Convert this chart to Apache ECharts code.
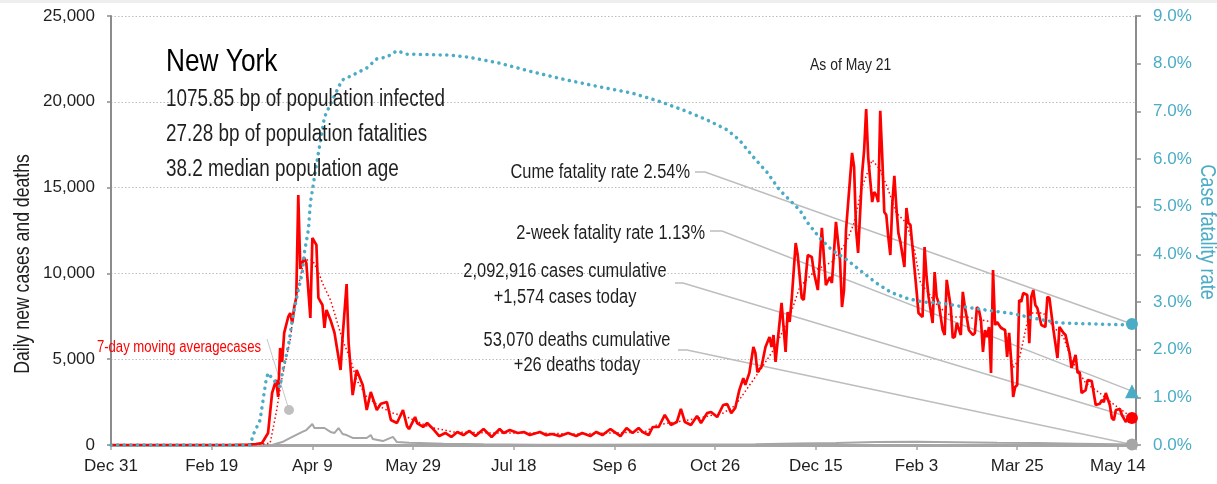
<!DOCTYPE html>
<html>
<head>
<meta charset="utf-8">
<script src="https://cdn.jsdelivr.net/npm/echarts@6/dist/echarts.min.js"></script>
<style>
  html, body { margin: 0; padding: 0; background: #fff; }
  #chart { width: 1217px; height: 484px; }
</style>
</head>
<body>
<div id="chart"></div>
<script>
const FONT = "'Liberation Sans', Arial, sans-serif"
const NARROW = 0.82 // horizontal squeeze to imitate the condensed face of the original
const BLUE = '#4bacc6'
const RED = '#ff0000'
const GREY = '#a6a6a6'
const INK = '#1f1f1f'

// x axis is days since Dec 31, 2019; one label every 50 days
const tickLabels = ['Dec 31', 'Feb 19', 'Apr 9', 'May 29', 'Jul 18', 'Sep 6', 'Oct 26', 'Dec 15', 'Feb 3', 'Mar 25', 'May 14']
const lastDay = 507 // May 21, 2021

// [day, daily new cases]
const dailyCases = [
  [0, 0], [20, 0], [40, 0], [60, 0], [68, 20], [72, 60], [75, 117], [78, 700], [80, 3030], [82, 3790], [83, 2800],
  [84, 5650], [85, 4840], [86, 6530], [88, 7460], [89, 7690], [90, 7110], [91, 8040], [92, 8600], [93, 14570],
  [94, 10260], [95, 10610], [96, 10900], [97, 10610], [99, 7400], [100, 12060], [102, 11660], [103, 8570],
  [105, 8160], [106, 6820], [107, 7870], [109, 7290], [111, 6530], [114, 4370], [115, 6290], [117, 9380],
  [118, 5940], [120, 2910], [122, 4370], [125, 3500], [127, 2040], [129, 3090], [132, 2040], [134, 2400],
  [137, 2510], [139, 1460], [142, 1280], [145, 2040], [147, 1100], [148, 930], [151, 1630], [152, 1280],
  [155, 1050], [157, 1280], [160, 930], [163, 520], [166, 700], [169, 470], [172, 760], [175, 580], [178, 820],
  [181, 520], [185, 930], [189, 470], [193, 930], [195, 700], [198, 870], [202, 700], [205, 760], [208, 580],
  [213, 760], [216, 580], [219, 640], [223, 520], [227, 700], [231, 520], [234, 700], [238, 520], [241, 760],
  [244, 580], [248, 930], [253, 520], [256, 990], [259, 700], [262, 990], [264, 760], [267, 580], [269, 1050],
  [272, 1050], [275, 1750], [278, 1170], [281, 1340], [283, 2100], [285, 1340], [288, 1170], [291, 1690],
  [293, 1280], [296, 1860], [298, 1920], [301, 1630], [304, 2330], [306, 2390], [308, 1860], [310, 2160],
  [312, 3200], [314, 3900], [315, 3500], [317, 4200], [319, 5710], [320, 5360], [321, 4250], [323, 4550],
  [325, 5710], [327, 6290], [328, 5710], [329, 6410], [330, 4840], [333, 8280], [335, 5420], [336, 7750],
  [337, 7170], [338, 8450], [340, 11770], [341, 11070], [343, 8570], [344, 8450], [346, 11070], [348, 10960],
  [349, 10080], [351, 9030], [353, 12650], [355, 9320], [357, 9790], [358, 9440], [360, 13000], [362, 10780],
  [363, 8040], [364, 9030], [365, 12530], [368, 17020], [369, 16200], [370, 12530], [371, 11190], [373, 15850],
  [374, 17190], [375, 19580], [376, 16780], [378, 14160], [379, 14740], [380, 14570], [381, 14160], [382, 19470],
  [383, 16780], [384, 13580], [385, 13400], [386, 12120], [387, 11070], [388, 14100], [389, 15680], [390, 13870],
  [391, 12360], [392, 11830], [394, 10370], [395, 13810], [396, 12940], [397, 12820], [398, 11540], [400, 9030],
  [401, 7690], [403, 7460], [404, 11540], [405, 9790], [406, 8630], [408, 7110], [409, 10080], [410, 8630],
  [411, 8280], [413, 6700], [414, 6410], [415, 9620], [417, 8040], [418, 6240], [419, 6300], [420, 7110],
  [422, 6410], [423, 8920], [424, 8040], [425, 7400], [426, 6700], [428, 6410], [429, 6530], [430, 8040],
  [431, 7870], [432, 7290], [433, 5420], [434, 6700], [435, 6290], [436, 6880], [437, 4200], [438, 10200],
  [439, 6990], [440, 7170], [442, 6820], [444, 6700], [445, 5130], [446, 6530], [447, 4950], [448, 2800],
  [449, 3380], [450, 3500], [451, 8450], [452, 8340], [453, 8860], [455, 8740], [456, 5940], [457, 8630],
  [458, 9030], [459, 8160], [460, 7980], [462, 6990], [464, 6880], [465, 8630], [466, 8570], [468, 6700],
  [470, 5070], [471, 6880], [473, 6530], [474, 6410], [476, 5360], [477, 4490], [479, 5250], [480, 4200],
  [481, 4250], [482, 3030], [484, 3200], [485, 3790], [487, 3730], [488, 3030], [489, 2330], [491, 2400],
  [492, 2620], [493, 2500], [494, 3030], [496, 2330], [497, 1570], [498, 1450], [499, 2040], [501, 2100],
  [502, 1750], [504, 1340], [505, 1570], [506, 1340], [507, 1574]
]

// [day, 7-day moving average of cases]
const casesAvg7 = [
  [0, 0], [60, 0], [72, 30], [79, 100], [82, 1860], [85, 3960], [89, 6120], [91, 8040], [94, 9790], [96, 10780],
  [100, 10780], [103, 10080], [105, 9440], [109, 8450], [112, 7290], [115, 6120], [119, 4950], [122, 3790],
  [127, 2800], [134, 2210], [140, 1860], [147, 1630], [158, 1050], [170, 760], [190, 700], [210, 700], [230, 640],
  [250, 700], [265, 760], [271, 1170], [287, 1460], [304, 1860], [310, 2300], [322, 4300], [329, 5540],
  [337, 7460], [342, 9210], [350, 10200], [358, 10670], [365, 11770], [369, 12940], [373, 15040], [378, 16610],
  [382, 16030], [386, 14860], [390, 13520], [395, 12940], [399, 11370], [402, 9440], [406, 8860], [411, 8040],
  [418, 7460], [425, 7460], [432, 7290], [440, 7110], [444, 6700], [448, 4500], [451, 5000], [456, 7690],
  [463, 7690], [468, 6880], [473, 6290], [477, 4950], [484, 3610], [491, 3030], [497, 2450], [504, 1860], [507, 1630]
]

// [day, daily new deaths]
const dailyDeaths = [
  [0, 0], [60, 0], [80, 0], [85, 170], [90, 470], [95, 760], [97, 870], [100, 1220], [101, 990], [104, 990],
  [106, 990], [109, 760], [111, 700], [113, 990], [115, 640], [117, 580], [120, 410], [124, 410], [127, 410],
  [129, 580], [130, 350], [135, 230], [140, 470], [142, 170], [148, 130], [153, 120], [165, 70], [185, 40],
  [210, 20], [240, 20], [270, 25], [300, 30], [320, 50], [340, 90], [360, 120], [380, 170], [400, 190],
  [420, 160], [440, 130], [460, 110], [480, 80], [500, 50], [507, 26]
]

// [day, cumulative case fatality rate %]
const caseFatalityRate = [
  [0, 0], [40, 0], [69, 0], [71, 0.25], [74, 0.52], [75, 0.8], [77, 1.36], [78, 1.51], [80, 1.4], [82, 1.3],
  [84, 1.22], [85, 1.51], [88, 2.06], [90, 2.62], [93, 3.25], [95, 3.61], [96, 4.03], [98, 4.51], [99, 5.08],
  [103, 6.13], [106, 6.88], [110, 7.24], [113, 7.51], [115, 7.66], [120, 7.76], [127, 7.91], [132, 8.1],
  [137, 8.14], [142, 8.27], [147, 8.2], [168, 8.18], [177, 8.14], [193, 8.01], [210, 7.82], [226, 7.66],
  [243, 7.51], [259, 7.38], [273, 7.2], [284, 7.03], [296, 6.82], [306, 6.61], [312, 6.4], [319, 6.04],
  [326, 5.71], [332, 5.35], [337, 5.14], [342, 4.93], [346, 4.66], [352, 4.34], [358, 4.09], [365, 3.9],
  [373, 3.63], [380, 3.4], [387, 3.21], [395, 3.08], [403, 3.0], [412, 2.98], [420, 2.92], [430, 2.86],
  [438, 2.81], [446, 2.77], [455, 2.69], [463, 2.62], [471, 2.56], [487, 2.54], [504, 2.52], [507, 2.54]
]

const cumeFatalityRate = 2.54
const twoWeekFatalityRate = 1.13
const casesToday = 1574
const deathsToday = 26
const casesCumulative = 2092916
const deathsCumulative = 53070

const fmt = (n) => n.toLocaleString('en-US')

const chart = echarts.init(document.getElementById('chart'), null, { renderer: 'canvas' })

const lineBase = { type: 'line', showSymbol: false, silent: true, animation: false }
const endMarker = (data, yAxisIndex, symbol, size, color) => ({
  type: 'scatter', yAxisIndex, data, symbol, symbolSize: size, silent: true, animation: false,
  itemStyle: { color, opacity: 1 }, z: 5
})

chart.setOption({
  animation: false,
  grid: { left: 111, right: 81, top: 16, bottom: 39 },
  xAxis: {
    type: 'value', min: 0, max: 509, interval: 50,
    axisLine: { lineStyle: { color: GREY, width: 3 } },
    axisTick: { length: 5, lineStyle: { color: GREY, width: 1.5 } },
    splitLine: { show: false },
    axisLabel: {
      margin: 13, color: INK, fontFamily: FONT, fontSize: 17,
      formatter: (v) => (v % 50 === 0 ? tickLabels[v / 50] : '')
    }
  },
  yAxis: [
    {
      type: 'value', min: 0, max: 25000, interval: 5000,
      axisLine: { show: true, lineStyle: { color: '#8c8c8c', width: 2 } },
      axisTick: { show: true, length: 4, lineStyle: { color: '#8c8c8c', width: 1.5 } },
      splitLine: { lineStyle: { color: '#bdbdbd', width: 1, type: [1.5, 2] } },
      axisLabel: { margin: 16, color: INK, fontFamily: FONT, fontSize: 17, formatter: (v) => fmt(v) }
    },
    {
      type: 'value', min: 0, max: 9, interval: 1, position: 'right',
      axisLine: { show: true, lineStyle: { color: '#8c8c8c', width: 2 } },
      axisTick: { show: true, length: 5, lineStyle: { color: '#8c8c8c', width: 1.5 } },
      splitLine: { show: false },
      axisLabel: { margin: 17, color: BLUE, fontFamily: FONT, fontSize: 17, formatter: (v) => v.toFixed(1) + '%' }
    }
  ],
  series: [
    { ...lineBase, data: dailyDeaths, lineStyle: { color: GREY, width: 2 }, z: 2 },
    { ...lineBase, data: casesAvg7, lineStyle: { color: RED, width: 1.5, type: [1.5, 2.5] }, z: 3 },
    { ...lineBase, data: dailyCases, lineStyle: { color: RED, width: 2.7 }, z: 4 },
    { ...lineBase, yAxisIndex: 1, data: caseFatalityRate, lineStyle: { color: BLUE, width: 3.5, type: [0.1, 6.5], cap: 'round' }, z: 4 },
    endMarker([[lastDay, cumeFatalityRate]], 1, 'circle', 12, BLUE),
    endMarker([[lastDay, twoWeekFatalityRate]], 1, 'triangle', 14, BLUE),
    endMarker([[lastDay, casesToday]], 0, 'circle', 12, RED),
    endMarker([[lastDay, deathsToday]], 0, 'circle', 12, GREY)
  ]
})

// annotation text + leader lines (leader ends snap to the end markers)
const text = (x, y, str, size, align, color, rotation) => ({
  type: 'text', x, y, scaleX: NARROW, rotation: rotation || 0, silent: true, z: 10,
  style: { text: str, fill: color || INK, font: size + 'px ' + FONT, textAlign: align || 'left', textVerticalAlign: 'middle' }
})
const leader = (x0, x1, y, seriesIndex, point) => {
  const p = chart.convertToPixel({ seriesIndex }, point)
  return {
    type: 'polyline', silent: true, z: 1,
    shape: { points: [[x0, y], [x1, y], p] },
    style: { stroke: '#bdbdbd', lineWidth: 1.5, fill: null }
  }
}

chart.setOption({
  graphic: [
    { type: 'rect', shape: { x: 0, y: 0, width: 1217, height: 3 }, style: { fill: '#eeeeee' }, silent: true },
    text(166, 62, 'New York', 32, 'left', '#000'),
    text(166, 100, '1075.85 bp of population infected', 23),
    text(166, 135, '27.28 bp of population fatalities', 23),
    text(166, 170, '38.2 median population age', 23),
    text(810, 65, 'As of May 21', 17),
    text(690, 172, 'Cume fatality rate ' + cumeFatalityRate.toFixed(2) + '%', 20, 'right'),
    text(705, 233, '2-week fatality rate ' + twoWeekFatalityRate.toFixed(2) + '%', 20, 'right'),
    text(565, 271, fmt(casesCumulative) + ' cases cumulative', 20, 'center'),
    text(565, 297, '+' + fmt(casesToday) + ' cases today', 20, 'center'),
    text(577, 340, fmt(deathsCumulative) + ' deaths cumulative', 20, 'center'),
    text(577, 365, '+' + deathsToday + ' deaths today', 20, 'center'),
    text(261, 348, '7-day moving averagecases', 16, 'right', RED),
    leader(695, 705, 172, 4, [lastDay, cumeFatalityRate]),
    leader(710, 722, 231, 5, [lastDay, twoWeekFatalityRate]),
    leader(675, 683, 283, 6, [lastDay, casesToday]),
    leader(678, 687, 350, 7, [lastDay, deathsToday]),
    { type: 'line', silent: true, z: 1, shape: { x1: 267, y1: 339, x2: 289, y2: 410 }, style: { stroke: '#c8c8c8', lineWidth: 1 } },
    { type: 'circle', silent: true, z: 1, shape: { cx: 289, cy: 410, r: 5 }, style: { fill: '#c0c0c0' } },
    text(23, 264, 'Daily new cases and deaths', 21.5, 'center', INK, Math.PI / 2),
    text(1207, 232, 'Case fatality rate', 22, 'center', BLUE, -Math.PI / 2)
  ]
})
</script>
</body>
</html>
